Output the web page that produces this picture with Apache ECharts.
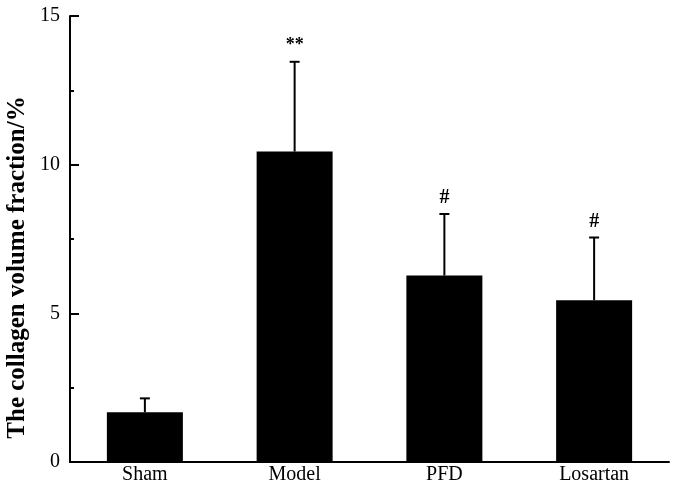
<!DOCTYPE html>
<html>
<head>
<meta charset="utf-8">
<script src="https://cdn.jsdelivr.net/npm/echarts@6/dist/echarts.min.js"></script>
<style>
  html, body { margin: 0; padding: 0; background: #fff; }
  #chart { width: 675px; height: 486px; }
</style>
</head>
<body>
<div id="chart"></div>
<script>
const categories = ['Sham', 'Model', 'PFD', 'Losartan'];
const means = [1.67, 10.44, 6.27, 5.44];
const errors = [0.47, 3.02, 2.07, 2.11];
const marks = ['', '**', '#', '#'];
const yTicks = [0, 5, 10, 15];
const yTitle = 'The collagen volume fraction/%';

const chart = echarts.init(document.getElementById('chart'), null, { renderer: 'canvas' });
const serif = '"Liberation Serif", "Times New Roman", serif';

const errData = categories.map((c, i) => [i, means[i], means[i] + errors[i], marks[i]]);

chart.setOption({
  animation: false,
  grid: { left: 70, right: 6, top: 16, bottom: 24, outerBoundsMode: 'none' },
  graphic: [{
    type: 'text',
    x: 17.5,
    y: 267.5,
    rotation: Math.PI / 2,
    style: {
      text: yTitle, align: 'center', verticalAlign: 'middle',
      fill: '#000', fontFamily: serif, fontSize: 25, fontWeight: 'bold'
    }
  }],
  xAxis: {
    type: 'category',
    data: categories,
    axisLine: { lineStyle: { color: '#000', width: 2 } },
    axisTick: { show: false },
    axisLabel: { color: '#000', fontFamily: serif, fontSize: 20, margin: 3 }
  },
  yAxis: {
    type: 'value',
    min: 0,
    max: 15,
    interval: 5,
    axisLine: { show: true, lineStyle: { color: '#000', width: 2 } },
    axisTick: { show: true, inside: true, length: 9, lineStyle: { color: '#000', width: 2 } },
    minorTick: { show: true, splitNumber: 2, length: 4, lineStyle: { color: '#000', width: 2 } },
    splitLine: { show: false },
    axisLabel: {
      color: '#000', fontFamily: serif, fontSize: 20, margin: 10,
      formatter: v => yTicks.includes(v) ? String(v) : ''
    }
  },
  series: [
    {
      type: 'bar',
      data: means,
      barWidth: 76,
      itemStyle: { color: '#000' }
    },
    {
      type: 'custom',
      data: errData,
      z: 3,
      renderItem: function (params, api) {
        const base = api.coord([api.value(0), api.value(1)]);
        const top = api.coord([api.value(0), api.value(2)]);
        const half = 5;
        const style = { stroke: '#000', lineWidth: 2 };
        const mark = marks[params.dataIndex];
        const children = [
          { type: 'line', shape: { x1: base[0], y1: base[1], x2: top[0], y2: top[1] }, style },
          { type: 'line', shape: { x1: top[0] - half, y1: top[1], x2: top[0] + half, y2: top[1] }, style }
        ];
        if (mark) {
          children.push({
            type: 'text',
            style: {
              text: mark, x: top[0], y: top[1] - 16,
              align: 'center', verticalAlign: 'middle',
              fill: '#000', fontFamily: serif, fontSize: mark === '#' ? 20 : 18, fontWeight: 'bold'
            }
          });
        }
        return { type: 'group', children };
      }
    }
  ]
});
</script>
</body>
</html>
